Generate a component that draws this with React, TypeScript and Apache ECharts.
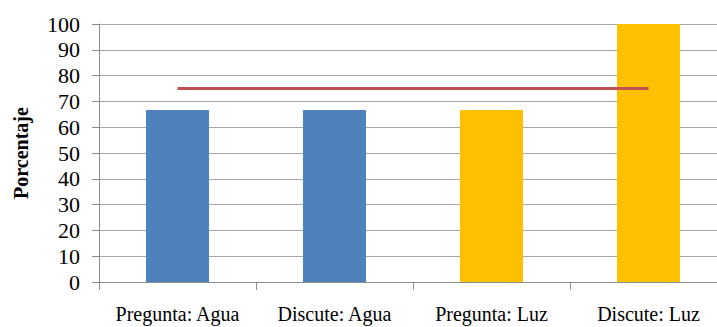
import React, { useEffect, useRef } from "react";
import * as echarts from "echarts";

const categories = ["Pregunta: Agua", "Discute: Agua", "Pregunta: Luz", "Discute: Luz"];
const percentages = [66.7, 66.7, 66.7, 100];
const barColors = ["#4F81BD", "#4F81BD", "#FFC000", "#FFC000"];
const referenceLine = [75, 75, 75, 75];
const yTicks = { min: 0, max: 100, interval: 10 };

export default function App() {
  const ref = useRef<HTMLDivElement>(null);

  useEffect(() => {
    if (!ref.current) return;
    const chart = echarts.init(ref.current, null, { renderer: "svg" });
    const serif = "Liberation Serif";
    chart.setOption({
      animation: false,
      backgroundColor: "#ffffff",
      grid: { left: 99, top: 24, width: 628, height: 258, containLabel: false },
      xAxis: {
        type: "category",
        data: categories,
        boundaryGap: true,
        axisLine: { lineStyle: { color: "#8c8c8c", width: 1 } },
        axisTick: { show: true, interval: 0, length: 8, lineStyle: { color: "#8c8c8c" } },
        axisLabel: {
          interval: 0,
          hideOverlap: false,
          color: "#000",
          fontFamily: serif,
          fontSize: 20,
          margin: 22,
        },
        splitLine: { show: false },
      },
      yAxis: {
        type: "value",
        min: yTicks.min,
        max: yTicks.max,
        interval: yTicks.interval,
        name: "Porcentaje",
        nameLocation: "middle",
        nameGap: 68,
        nameRotate: 90,
        nameTextStyle: { color: "#000", fontFamily: serif, fontSize: 20, fontWeight: "bold" },
        axisLine: { show: true, lineStyle: { color: "#8c8c8c", width: 1 } },
        axisTick: { show: true, length: 7, lineStyle: { color: "#8c8c8c" } },
        axisLabel: {
          showMinLabel: true,
          showMaxLabel: true,
          hideOverlap: false,
          color: "#000",
          fontFamily: serif,
          fontSize: 22,
          margin: 19,
        },
        splitLine: { show: true, lineStyle: { color: "#a6a6a6", width: 1 } },
      },
      series: [
        {
          type: "bar",
          data: percentages.map((v, i) => ({ value: v, itemStyle: { color: barColors[i] } })),
          barWidth: 63,
        },
        {
          type: "line",
          data: referenceLine,
          symbol: "none",
          lineStyle: { color: "#C0504D", width: 3 },
          itemStyle: { color: "#C0504D" },
          z: 5,
        },
      ],
    });
    return () => chart.dispose();
  }, []);

  return (
    <div style={{ position: "fixed", left: 0, top: 0, width: 717, height: 327, overflow: "hidden", background: "#fff" }}>
      <div ref={ref} style={{ width: 745, height: 327 }} />
    </div>
  );
}
